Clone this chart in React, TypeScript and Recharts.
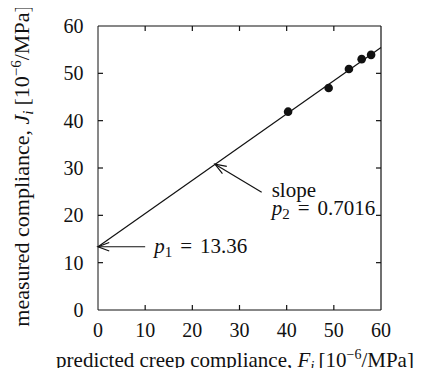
import React from 'react';
import {
	ComposedChart,
	Line,
	Scatter,
	XAxis,
	YAxis,
	ReferenceLine,
	Label,
} from 'recharts';

// measured points (F_i, J_i)
const predicted = [40.3, 48.9, 53.2, 55.9, 57.9];
const measured = [41.9, 46.9, 50.9, 53.0, 53.9];

// least squares fit line end points
const fitF = [0, 60];
const fitJ = [13.36, 55.46];

const ticks = [0, 10, 20, 30, 40, 50, 60];
const AX_MIN = 0;
const AX_MAX = 60;

// annotation arrows: [tail, head]
const interceptArrow = [
	{ x: 10, y: 13.36 },
	{ x: 0, y: 13.36 },
];
const slopeArrow = [
	{ x: 34.7, y: 24.9 },
	{ x: 24.8, y: 30.8 },
];

// diagonal of the plot box, used to place the frame and the inward ticks
const boxDiagonal = [
	{ x: AX_MIN, y: AX_MIN },
	{ x: AX_MAX, y: AX_MAX },
];

const points = predicted.map((f, i) => ({ f, j: measured[i] }));
const fitLine = fitF.map((f, i) => ({ f, j: fitJ[i] }));

const FONT = '"Liberation Serif", "DejaVu Serif", serif';
const INK = '#111';
const TICK_LEN = 5;
const tickStyle = { fill: INK, fontSize: 20, fontFamily: FONT };

function frameShape(tickValues: number[]) {
	return function FrameShape(props: any) {
		const { x1, y1, x2, y2 } = props;
		const inner = tickValues.filter((t) => t > AX_MIN && t < AX_MAX);
		const frac = (t: number) => (t - AX_MIN) / (AX_MAX - AX_MIN);
		return (
			<g stroke={INK} strokeWidth={1.2} fill="none">
				<line x1={x1} y1={y2} x2={x2} y2={y2} />
				<line x1={x2} y1={y2} x2={x2} y2={y1} />
				{inner.map((t) => {
					const px = x1 + (x2 - x1) * frac(t);
					const py = y1 + (y2 - y1) * frac(t);
					return (
						<g key={t}>
							<line x1={px} y1={y1} x2={px} y2={y1 - TICK_LEN} />
							<line x1={px} y1={y2} x2={px} y2={y2 + TICK_LEN} />
							<line x1={x1} y1={py} x2={x1 + TICK_LEN} y2={py} />
							<line x1={x2} y1={py} x2={x2 - TICK_LEN} y2={py} />
						</g>
					);
				})}
			</g>
		);
	};
}

function arrowShape(label: (x: number, y: number) => React.ReactNode) {
	return function ArrowShape(props: any) {
		const { x1, y1, x2, y2 } = props;
		const ang = Math.atan2(y2 - y1, x2 - x1);
		const len = 12;
		const spread = 0.36;
		const ax = x2 - len * Math.cos(ang - spread);
		const ay = y2 - len * Math.sin(ang - spread);
		const bx = x2 - len * Math.cos(ang + spread);
		const by = y2 - len * Math.sin(ang + spread);
		return (
			<g>
				<line x1={x1} y1={y1} x2={x2} y2={y2} stroke={INK} strokeWidth={1.2} />
				<polyline
					points={`${ax},${ay} ${x2},${y2} ${bx},${by}`}
					fill="none"
					stroke={INK}
					strokeWidth={1.2}
				/>
				{label(x1, y1)}
			</g>
		);
	};
}

const interceptLabel = (x: number, y: number) => (
	<text x={x + 9} y={y + 6} fontFamily={FONT} fontSize={21} fill={INK}>
		<tspan fontStyle="italic">p</tspan>
		<tspan fontSize={15} dy={4}>1</tspan>
		<tspan dy={-4} dx={8}>=</tspan>
		<tspan dx={8}>13.36</tspan>
	</text>
);

const slopeLabel = (x: number, y: number) => (
	<g>
		<text x={x + 10} y={y + 5} fontFamily={FONT} fontSize={21} fill={INK}>
			slope
		</text>
		<text x={x + 10} y={y + 23} fontFamily={FONT} fontSize={21} fill={INK}>
			<tspan fontStyle="italic">p</tspan>
			<tspan fontSize={15} dy={4}>2</tspan>
			<tspan dy={-4} dx={8}>=</tspan>
			<tspan dx={8}>0.7016</tspan>
		</text>
	</g>
);

const XTitle = () => (
	<text x={235} y={367} textAnchor="middle" fontFamily={FONT} fontSize={21} fill={INK}>
		predicted creep compliance,{' '}
		<tspan fontStyle="italic">F</tspan>
		<tspan fontStyle="italic" fontSize={15} dy={4}>i</tspan>
		<tspan dy={-4} dx={4}>[10</tspan>
		<tspan fontSize={14} dy={-8}>−6</tspan>
		<tspan dy={8}>/MPa]</tspan>
	</text>
);

const YTitle = () => {
	const cx = 29;
	const cy = 166;
	return (
		<text
			x={cx}
			y={cy}
			transform={`rotate(-90 ${cx} ${cy})`}
			textAnchor="middle"
			fontFamily={FONT}
			fontSize={22}
			fill={INK}
		>
			measured compliance,{' '}
			<tspan fontStyle="italic">J</tspan>
			<tspan fontStyle="italic" fontSize={15} dy={4}>i</tspan>
			<tspan dy={-4} dx={5}>[10</tspan>
			<tspan fontSize={15} dy={-8}>−6</tspan>
			<tspan dy={8}>/MPa]</tspan>
		</text>
	);
};

const Dot = (props: any) => <circle cx={props.cx} cy={props.cy} r={4.3} fill={INK} />;

export default function App() {
	return (
		<div style={{ margin: -8, background: '#fff', width: 424, height: 376 }}>
			<ComposedChart width={424} height={376} margin={{ top: 26, right: 43, bottom: 26, left: 38 }}>
				<XAxis
					xAxisId="b"
					type="number"
					dataKey="f"
					domain={[AX_MIN, AX_MAX]}
					ticks={ticks}
					height={40}
					tickLine={false}
					tickMargin={7}
					tick={tickStyle}
					stroke={INK}
				>
					<Label content={<XTitle />} />
				</XAxis>
				<YAxis
					yAxisId="l"
					type="number"
					dataKey="j"
					domain={[AX_MIN, AX_MAX]}
					ticks={ticks}
					width={60}
					tickLine={false}
					tickMargin={8.5}
					tick={tickStyle}
					stroke={INK}
				>
					<Label content={<YTitle />} />
				</YAxis>
				<Line
					xAxisId="b"
					yAxisId="l"
					data={fitLine}
					dataKey="j"
					type="linear"
					stroke={INK}
					strokeWidth={1.2}
					dot={false}
					activeDot={false}
					isAnimationActive={false}
				/>
				<Scatter
					xAxisId="b"
					yAxisId="l"
					data={points}
					dataKey="j"
					fill={INK}
					shape={<Dot />}
					isAnimationActive={false}
				/>
				<ReferenceLine
					xAxisId="b"
					yAxisId="l"
					segment={interceptArrow}
					shape={arrowShape(interceptLabel)}
					ifOverflow="visible"
				/>
				<ReferenceLine
					xAxisId="b"
					yAxisId="l"
					segment={slopeArrow}
					shape={arrowShape(slopeLabel)}
					ifOverflow="visible"
				/>
				<ReferenceLine
					xAxisId="b"
					yAxisId="l"
					segment={boxDiagonal}
					shape={frameShape(ticks)}
					ifOverflow="visible"
				/>
			</ComposedChart>
		</div>
	);
}
